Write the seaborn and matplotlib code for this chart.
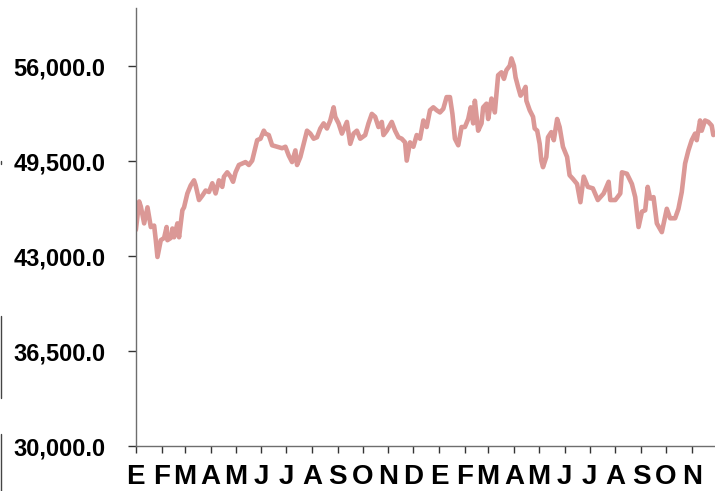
import numpy as np
import pandas as pd
import matplotlib.pyplot as plt
from matplotlib.lines import Line2D
from matplotlib.ticker import FuncFormatter
import seaborn as sns

# values (roughly every 4 days)
fechas = [
    "2021-01-01", "2021-01-05", "2021-01-07", "2021-01-11", "2021-01-15", "2021-01-19",
    "2021-01-23", "2021-01-25", "2021-01-27", "2021-01-31", "2021-02-04", "2021-02-07",
    "2021-02-08", "2021-02-12", "2021-02-14", "2021-02-16", "2021-02-20", "2021-02-22",
    "2021-02-26", "2021-02-28", "2021-03-04", "2021-03-08", "2021-03-12", "2021-03-14",
    "2021-03-18", "2021-03-22", "2021-03-26", "2021-03-30", "2021-04-03", "2021-04-07",
    "2021-04-11", "2021-04-15", "2021-04-17", "2021-04-21", "2021-04-25", "2021-04-28",
    "2021-05-01", "2021-05-05", "2021-05-09", "2021-05-13", "2021-05-17", "2021-05-21",
    "2021-05-27", "2021-05-31", "2021-06-04", "2021-06-06", "2021-06-10", "2021-06-14",
    "2021-06-20", "2021-06-26", "2021-06-30", "2021-07-04", "2021-07-08", "2021-07-12",
    "2021-07-14", "2021-07-18", "2021-07-22", "2021-07-26", "2021-07-30", "2021-08-03",
    "2021-08-07", "2021-08-11", "2021-08-15", "2021-08-19", "2021-08-23", "2021-08-27",
    "2021-08-29", "2021-09-02", "2021-09-06", "2021-09-12", "2021-09-16", "2021-09-20",
    "2021-09-24", "2021-09-28", "2021-10-04", "2021-10-08", "2021-10-12", "2021-10-16",
    "2021-10-20", "2021-10-24", "2021-10-26", "2021-10-30", "2021-11-05", "2021-11-09",
    "2021-11-13", "2021-11-17", "2021-11-21", "2021-11-23", "2021-11-27", "2021-12-01",
    "2021-12-05", "2021-12-09", "2021-12-13", "2021-12-17", "2021-12-21", "2021-12-25",
    "2021-12-29", "2022-01-02", "2022-01-06", "2022-01-10", "2022-01-14", "2022-01-17",
    "2022-01-20", "2022-01-24", "2022-01-28", "2022-02-01", "2022-02-05", "2022-02-08",
    "2022-02-11", "2022-02-13", "2022-02-17", "2022-02-21", "2022-02-23", "2022-02-27",
    "2022-03-01", "2022-03-05", "2022-03-09", "2022-03-13", "2022-03-17", "2022-03-20",
    "2022-03-23", "2022-03-27", "2022-03-29", "2022-04-01", "2022-04-03", "2022-04-06",
    "2022-04-09", "2022-04-12", "2022-04-15", "2022-04-16", "2022-04-20", "2022-04-24",
    "2022-04-26", "2022-04-29", "2022-05-02", "2022-05-04", "2022-05-06", "2022-05-10",
    "2022-05-12", "2022-05-16", "2022-05-19", "2022-05-23", "2022-05-26", "2022-05-30",
    "2022-06-04", "2022-06-07", "2022-06-11", "2022-06-16", "2022-06-20", "2022-06-24",
    "2022-06-29", "2022-07-05", "2022-07-11", "2022-07-18", "2022-07-24", "2022-07-26",
    "2022-08-01", "2022-08-07", "2022-08-09", "2022-08-15", "2022-08-21", "2022-08-25",
    "2022-08-29", "2022-09-02", "2022-09-06", "2022-09-09", "2022-09-12", "2022-09-16",
    "2022-09-20", "2022-09-26", "2022-10-02", "2022-10-06", "2022-10-12", "2022-10-16",
    "2022-10-20", "2022-10-24", "2022-10-28", "2022-11-01", "2022-11-05", "2022-11-07",
    "2022-11-11", "2022-11-13", "2022-11-17", "2022-11-21", "2022-11-25", "2022-11-27",
]
valores = [
    44800, 46750, 46400, 45250, 46350, 45000,
    45100, 44100, 42950, 44100, 44250, 45000,
    44100, 44250, 44900, 44300, 45250, 44300,
    46150, 46350, 47300, 47850, 48200, 47850,
    46850, 47150, 47500, 47400, 48000, 47300,
    48200, 47750, 48450, 48750, 48450, 48100,
    48750, 49250, 49350, 49450, 49250, 49550,
    50950, 51050, 51600, 51400, 51300, 50600,
    50500, 50400, 50500, 49900, 49450, 50250,
    49250, 49800, 50700, 51600, 51400, 51050,
    51150, 51750, 52100, 51750, 52300, 53200,
    52550, 52100, 51400, 52200, 50700, 51400,
    51600, 51050, 51300, 52100, 52750, 52550,
    51850, 52200, 51300, 51600, 52200, 51600,
    51150, 51050, 50800, 49550, 50800, 50500,
    51300, 51050, 52300, 51850, 53000, 53200,
    53000, 52850, 53100, 53900, 53900, 52750,
    51050, 50600, 51850, 51850, 52400, 53200,
    52100, 53650, 51600, 52100, 53200, 53450,
    52400, 53800, 52850, 55400, 55600, 55150,
    55750, 56050, 56550, 56050, 55250, 54600,
    54000, 54250, 54600, 53650, 53000, 52550,
    51750, 51600, 50700, 49550, 49100, 49800,
    51150, 51500, 50950, 52400, 51850, 50500,
    49800, 48550, 48300, 47950, 46700, 48450,
    47750, 47650, 46850, 47300, 48100, 46850,
    46850, 47300, 48750, 48650, 47950, 47050,
    45000, 46050, 46150, 47750, 46950, 47050,
    45250, 44650, 46250, 45600, 45600, 46250,
    47400, 49350, 50250, 50950, 51400, 50950,
    52300, 51600, 52300, 52200, 51950, 51300,
]

meses = ["E", "F", "M", "A", "M", "J", "J", "A", "S", "O", "N", "D",
         "E", "F", "M", "A", "M", "J", "J", "A", "S", "O", "N"]
y_ticks = [30000, 36500, 43000, 49500, 56000]

df = pd.DataFrame({"fecha": pd.to_datetime(fechas), "valor": valores})

sns.set_style("white")
plt.rcParams["font.family"] = ["Liberation Sans", "DejaVu Sans"]

fig = plt.figure(figsize=(7.15, 4.91), dpi=100)
ax = fig.add_axes([0.19, 0.0916, 0.81, 0.892])

sns.lineplot(data=df, x="fecha", y="valor", ax=ax, color="#db9896",
             linewidth=3.3, solid_capstyle="round", solid_joinstyle="round")

ax.set_xlim(pd.Timestamp("2021-01-01"), pd.Timestamp("2022-11-29"))
ax.set_ylim(30000, 60000)

ticks_x = pd.date_range("2021-01-01", periods=len(meses), freq="MS")
ax.set_xticks(ticks_x)
ax.set_xticklabels(meses)
ax.set_yticks(y_ticks)
ax.yaxis.set_major_formatter(FuncFormatter(lambda v, p: f"{v:,.1f}"))

ax.set_xlabel("")
ax.set_ylabel("")
sns.despine(ax=ax)
for s in ["left", "bottom"]:
    ax.spines[s].set_color("#6e6e6e")
    ax.spines[s].set_linewidth(1.0)

ax.tick_params(axis="y", left=True, direction="out", length=6, width=1,
               color="#333333", pad=16, labelsize=17, labelcolor="black")
ax.tick_params(axis="x", bottom=True, direction="out", length=5, width=1,
               color="#333333", pad=8, labelsize=20, labelcolor="black")
for lab in ax.get_xticklabels() + ax.get_yticklabels():
    lab.set_fontweight("bold")

# stray marks at the left edge of the original image
for y0, y1 in [(0.667, 0.672), (0.190, 0.357), (0.0, 0.116)]:
    fig.add_artist(Line2D([0.001, 0.001], [y0, y1], color="#444444",
                          linewidth=1.0, transform=fig.transFigure))

fig.savefig("out.png", dpi=100)
